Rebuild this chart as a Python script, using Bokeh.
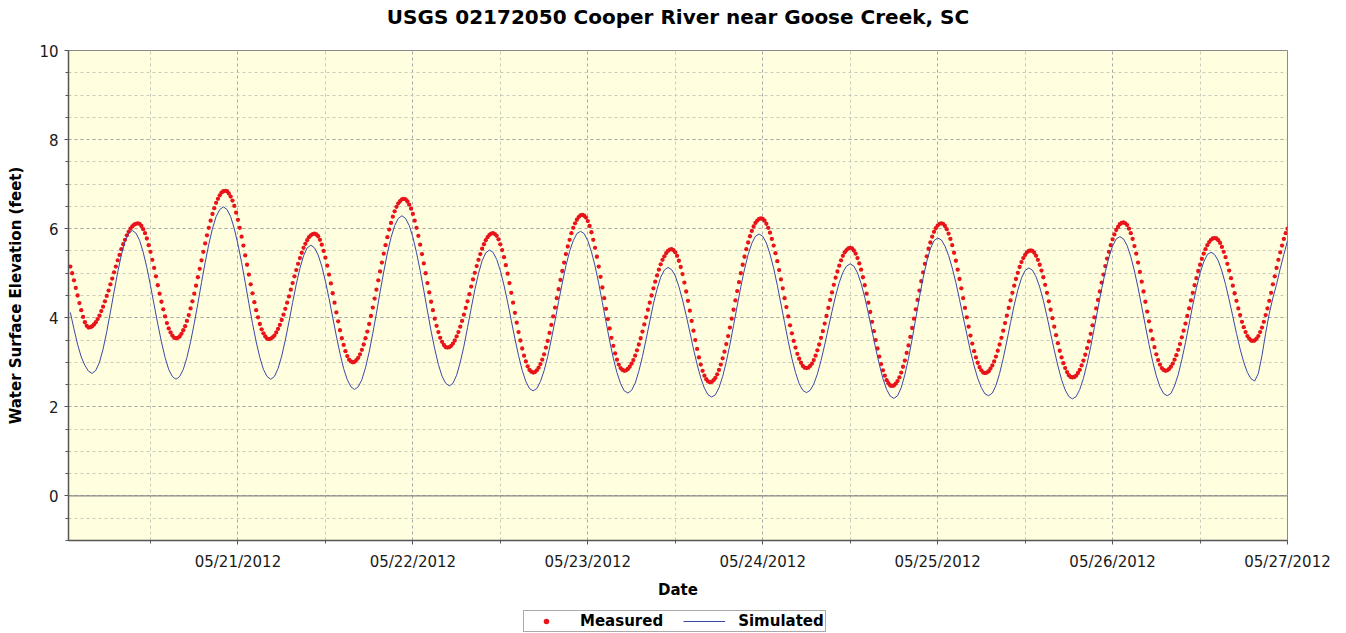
import pandas as pd
from bokeh.plotting import figure
from bokeh.layouts import column
from bokeh.models import (ColumnDataSource, FixedTicker, SingleIntervalTicker,
                          DatetimeTickFormatter, Legend, LegendItem, Span, Range1d, Title)
from bokeh.embed import file_html
from bokeh.resources import INLINE

TITLE = "USGS 02172050 Cooper River near Goose Creek, SC"
X_LABEL = "Date"
Y_LABEL = "Water Surface Elevation (feet)"
SERIES_NAMES = ["Measured", "Simulated"]

DAY_TICKS = ["2012-05-21", "2012-05-22", "2012-05-23", "2012-05-24",
             "2012-05-25", "2012-05-26", "2012-05-27"]
NOON_TICKS = ["2012-05-20 12:00", "2012-05-21 12:00", "2012-05-22 12:00",
              "2012-05-23 12:00", "2012-05-24 12:00", "2012-05-25 12:00",
              "2012-05-26 12:00"]
X_START = "2012-05-20 00:45"
X_END = "2012-05-27 00:00"
Y_MIN, Y_MAX = -1, 10

# Measured water surface elevation (feet), 15-minute values from 05/20/2012 01:00
MEASURED_START = "2012-05-20 01:00"
measured_0520 = [5.15, 5.00, 4.84, 4.67, 4.50, 4.33, 4.17, 4.02, 3.90, 3.82, 3.78,
                 3.79, 3.81, 3.85, 3.90, 3.97, 4.05, 4.15, 4.25, 4.37, 4.49, 4.61, 4.75, 4.88, 5.02,
                 5.15, 5.29, 5.41, 5.54, 5.65, 5.75, 5.85, 5.93, 6.00, 6.05, 6.09, 6.11, 6.12,
                 6.11, 6.06, 5.99, 5.90, 5.78, 5.63, 5.48, 5.30, 5.12, 4.93, 4.73, 4.54, 4.36, 4.19,
                 4.03, 3.88, 3.76, 3.67, 3.60, 3.55, 3.54,
                 3.55, 3.58, 3.64, 3.72, 3.81, 3.93, 4.06, 4.21, 4.37, 4.54, 4.72, 4.91, 5.10, 5.29,
                 5.48, 5.67, 5.85, 6.02, 6.18, 6.33, 6.46, 6.58, 6.67, 6.75, 6.81, 6.84, 6.85,
                 6.84, 6.79, 6.72, 6.63, 6.51, 6.36]
measured_0521 = [6.20, 6.02, 5.82, 5.62, 5.40, 5.19, 4.97, 4.75, 4.55, 4.35, 4.17, 4.01, 3.86,
                 3.74, 3.65, 3.58, 3.53, 3.52,
                 3.53, 3.56, 3.60, 3.67, 3.75, 3.84, 3.95, 4.07, 4.20, 4.34, 4.48, 4.63, 4.78, 4.93,
                 5.07, 5.21, 5.34, 5.46, 5.57, 5.66, 5.74, 5.81, 5.85, 5.88, 5.89,
                 5.87, 5.83, 5.75, 5.64, 5.50, 5.35, 5.17, 4.97, 4.77, 4.55, 4.34, 4.12, 3.92, 3.72,
                 3.54, 3.39, 3.25, 3.14, 3.06, 3.02, 3.00,
                 3.01, 3.05, 3.10, 3.18, 3.28, 3.40, 3.54, 3.69, 3.86, 4.04, 4.23, 4.43, 4.63, 4.84,
                 5.04, 5.24, 5.44, 5.63, 5.81, 5.98, 6.13, 6.27, 6.39, 6.49, 6.57, 6.62, 6.66, 6.67,
                 6.66, 6.61, 6.54, 6.45]
measured_0522 = [6.33, 6.18, 6.02, 5.84, 5.64, 5.43, 5.22, 5.00, 4.78, 4.57, 4.36, 4.17, 3.98,
                 3.82, 3.68, 3.55, 3.46, 3.39, 3.34, 3.33,
                 3.34, 3.37, 3.42, 3.49, 3.58, 3.68, 3.80, 3.93, 4.07, 4.22, 4.37, 4.53, 4.70, 4.86,
                 5.01, 5.16, 5.30, 5.43, 5.55, 5.65, 5.74, 5.81, 5.86, 5.89, 5.90,
                 5.88, 5.84, 5.76, 5.65, 5.52, 5.36, 5.18, 4.99, 4.78, 4.56, 4.34, 4.11, 3.89, 3.68,
                 3.49, 3.31, 3.15, 3.02, 2.91, 2.83, 2.79, 2.77,
                 2.78, 2.82, 2.88, 2.96, 3.06, 3.18, 3.33, 3.48, 3.66, 3.84, 4.03, 4.23, 4.44, 4.64,
                 4.85, 5.05, 5.24, 5.43, 5.60, 5.75, 5.90, 6.02, 6.12, 6.20, 6.26, 6.30, 6.31,
                 6.29, 6.25]
measured_0523 = [6.17, 6.06, 5.92, 5.75, 5.57, 5.37, 5.15, 4.92, 4.68, 4.44, 4.20, 3.97, 3.76,
                 3.55, 3.37, 3.20, 3.06, 2.95, 2.87, 2.83, 2.81,
                 2.82, 2.85, 2.90, 2.97, 3.05, 3.15, 3.27, 3.40, 3.54, 3.69, 3.85, 4.01, 4.18, 4.34,
                 4.50, 4.66, 4.81, 4.95, 5.08, 5.20, 5.30, 5.38, 5.45, 5.50, 5.53, 5.54,
                 5.52, 5.47, 5.39, 5.28, 5.14, 4.98, 4.79, 4.59, 4.38, 4.16, 3.93, 3.71, 3.50, 3.30,
                 3.11, 2.95, 2.81, 2.70, 2.62, 2.57, 2.55,
                 2.56, 2.60, 2.65, 2.73, 2.83, 2.95, 3.09, 3.24, 3.41, 3.59, 3.78, 3.98, 4.18, 4.39,
                 4.60, 4.80, 5.00, 5.19, 5.37, 5.54, 5.69, 5.83, 5.95, 6.05, 6.13, 6.18, 6.22, 6.23]
measured_0524 = [6.22, 6.18, 6.11, 6.02, 5.91, 5.77, 5.62, 5.45, 5.27, 5.07, 4.86, 4.66, 4.44,
                 4.24, 4.03, 3.83, 3.65, 3.48, 3.33, 3.19, 3.08, 2.99, 2.92, 2.88, 2.87,
                 2.88, 2.92, 2.97, 3.05, 3.15, 3.27, 3.40, 3.55, 3.70, 3.87, 4.04, 4.22, 4.40, 4.57,
                 4.74, 4.90, 5.04, 5.17, 5.29, 5.39, 5.47, 5.52, 5.56, 5.57,
                 5.56, 5.51, 5.44, 5.34, 5.22, 5.08, 4.91, 4.73, 4.54, 4.34, 4.13, 3.91, 3.70, 3.50,
                 3.31, 3.13, 2.96, 2.82, 2.70, 2.60, 2.53, 2.48, 2.47,
                 2.48, 2.52, 2.58, 2.66, 2.77, 2.90, 3.04, 3.21, 3.38, 3.57, 3.77, 3.98, 4.19, 4.40,
                 4.61, 4.82, 5.02, 5.21, 5.38, 5.55, 5.69, 5.82, 5.93, 6.01]
measured_0525 = [6.07, 6.11, 6.12,
                 6.11, 6.06, 5.99, 5.89, 5.77, 5.63, 5.46, 5.28, 5.08, 4.87, 4.66, 4.44, 4.22, 4.01,
                 3.80, 3.60, 3.42, 3.25, 3.11, 2.99, 2.89, 2.82, 2.77, 2.76,
                 2.77, 2.80, 2.86, 2.93, 3.02, 3.13, 3.26, 3.40, 3.55, 3.71, 3.88, 4.05, 4.22, 4.39,
                 4.56, 4.72, 4.87, 5.01, 5.14, 5.25, 5.34, 5.41, 5.47, 5.50, 5.51,
                 5.50, 5.46, 5.39, 5.30, 5.19, 5.06, 4.91, 4.74, 4.56, 4.37, 4.18, 3.99, 3.80, 3.61,
                 3.43, 3.26, 3.11, 2.98, 2.87, 2.78, 2.71, 2.67, 2.66,
                 2.67, 2.70, 2.76, 2.83, 2.93, 3.04, 3.17, 3.32, 3.47, 3.64, 3.83, 4.01, 4.21, 4.40,
                 4.59, 4.79, 4.97, 5.16, 5.33, 5.48, 5.63]
measured_0526 = [5.76, 5.87, 5.97, 6.04, 6.10, 6.13, 6.14,
                 6.12, 6.08, 6.00, 5.90, 5.77, 5.61, 5.44, 5.24, 5.03, 4.81, 4.59, 4.36, 4.14, 3.92,
                 3.71, 3.52, 3.34, 3.18, 3.05, 2.95, 2.87, 2.83, 2.81,
                 2.82, 2.85, 2.90, 2.97, 3.06, 3.16, 3.28, 3.41, 3.56, 3.71, 3.87, 4.04, 4.21, 4.39,
                 4.56, 4.73, 4.89, 5.05, 5.19, 5.32, 5.44, 5.54, 5.63, 5.70, 5.75, 5.78, 5.79,
                 5.78, 5.74, 5.68, 5.59, 5.48, 5.36, 5.21, 5.06, 4.89, 4.72, 4.55, 4.38, 4.21, 4.06,
                 3.91, 3.79, 3.68, 3.59, 3.53, 3.49, 3.48,
                 3.49, 3.53, 3.59, 3.68, 3.78, 3.91, 4.06, 4.21, 4.38, 4.56, 4.75, 4.93, 5.12, 5.30,
                 5.47, 5.62, 5.77, 5.90, 6.00]

# Simulated water surface elevation (feet), 30-minute values from 05/20/2012 01:00
SIMULATED_START = "2012-05-20 01:00"
simulated_0520 = [4.12, 3.75, 3.40, 3.12, 2.93, 2.80, 2.75,
                  2.82, 3.00, 3.30, 3.69, 4.13, 4.58, 5.02, 5.41, 5.71, 5.89, 5.96,
                  5.90, 5.74, 5.47, 5.13, 4.72, 4.29, 3.86, 3.46, 3.11, 2.84, 2.68, 2.62,
                  2.68, 2.84, 3.11, 3.46, 3.87, 4.32, 4.79, 5.24, 5.65, 6.00, 6.27, 6.43, 6.49,
                  6.43, 6.27, 6.00]
simulated_0521 = [5.65, 5.24, 4.79, 4.32, 3.87, 3.46, 3.11, 2.84, 2.68, 2.62,
                  2.68, 2.86, 3.14, 3.50, 3.91, 4.34, 4.75, 5.11, 5.39, 5.57, 5.63,
                  5.57, 5.41, 5.16, 4.82, 4.43, 4.01, 3.59, 3.20, 2.86, 2.61, 2.45, 2.39,
                  2.45, 2.61, 2.88, 3.23, 3.65, 4.10, 4.58, 5.03, 5.45, 5.80, 6.07, 6.23, 6.29,
                  6.23, 6.07]
simulated_0522 = [5.81, 5.46, 5.06, 4.61, 4.15, 3.70, 3.30, 2.95, 2.69, 2.53, 2.47,
                  2.53, 2.71, 3.00, 3.36, 3.78, 4.21, 4.63, 4.99, 5.28, 5.46, 5.52,
                  5.47, 5.31, 5.06, 4.73, 4.35, 3.94, 3.53, 3.15, 2.82, 2.57, 2.41, 2.36,
                  2.41, 2.57, 2.81, 3.13, 3.52, 3.93, 4.37, 4.78, 5.17, 5.49, 5.73, 5.89, 5.94,
                  5.89]
simulated_0523 = [5.73, 5.48, 5.16, 4.77, 4.34, 3.91, 3.48, 3.09, 2.77, 2.52, 2.36, 2.31,
                  2.37, 2.53, 2.80, 3.13, 3.52, 3.92, 4.31, 4.64, 4.91, 5.07, 5.13,
                  5.08, 4.94, 4.70, 4.40, 4.05, 3.68, 3.30, 2.95, 2.65, 2.42, 2.27, 2.22,
                  2.27, 2.43, 2.68, 3.01, 3.40, 3.83, 4.27, 4.70, 5.09, 5.42, 5.67, 5.83, 5.88]
simulated_0524 = [5.83, 5.68, 5.43, 5.11, 4.73, 4.31, 3.89, 3.47, 3.09, 2.77, 2.52, 2.37, 2.32,
                  2.37, 2.51, 2.74, 3.04, 3.39, 3.77, 4.14, 4.49, 4.79, 5.02, 5.16, 5.21,
                  5.16, 5.01, 4.77, 4.46, 4.09, 3.70, 3.31, 2.95, 2.63, 2.39, 2.24, 2.19,
                  2.25, 2.43, 2.72, 3.09, 3.52, 3.99, 4.46, 4.89, 5.26, 5.55, 5.73]
simulated_0525 = [5.79,
                  5.75, 5.61, 5.40, 5.12, 4.79, 4.41, 4.02, 3.63, 3.25, 2.92, 2.64, 2.43, 2.29, 2.25,
                  2.31, 2.48, 2.75, 3.09, 3.48, 3.89, 4.28, 4.62, 4.89, 5.06, 5.12,
                  5.07, 4.92, 4.69, 4.39, 4.03, 3.65, 3.27, 2.92, 2.61, 2.38, 2.23, 2.18,
                  2.23, 2.39, 2.64, 2.97, 3.35, 3.78, 4.22, 4.65, 5.03, 5.36]
simulated_0526 = [5.61, 5.77, 5.82,
                  5.77, 5.62, 5.37, 5.05, 4.67, 4.25, 3.82, 3.40, 3.02, 2.70, 2.45, 2.30, 2.25,
                  2.30, 2.47, 2.72, 3.06, 3.44, 3.86, 4.28, 4.67, 5.00, 5.25, 5.42, 5.47,
                  5.42, 5.28, 5.05, 4.75, 4.40, 4.03, 3.65, 3.30, 3.00, 2.77, 2.63, 2.58,
                  2.75, 3.15, 3.65, 4.10, 4.45, 4.75, 5.10, 5.42, 5.73]

measured = (measured_0520 + measured_0521 + measured_0522 + measured_0523 +
            measured_0524 + measured_0525 + measured_0526)
simulated = (simulated_0520 + simulated_0521 + simulated_0522 + simulated_0523 +
             simulated_0524 + simulated_0525 + simulated_0526)

src_meas = ColumnDataSource(dict(
    t=pd.date_range(MEASURED_START, periods=len(measured), freq="15min"), v=measured))
src_sim = ColumnDataSource(dict(
    t=pd.date_range(SIMULATED_START, periods=len(simulated), freq="30min"), v=simulated))


def ms(s):
    return pd.Timestamp(s).value // 10**6


FONT = "DejaVu Sans"
MEAS_STYLE = dict(size=4.3, fill_color="#e8141a", line_color=None)
SIM_STYLE = dict(line_color="#3b48a8", line_width=1)

p = figure(width=1346, height=605, x_axis_type="datetime", title=None,
           output_backend="svg", toolbar_location=None,
           x_range=Range1d(ms(X_START), ms(X_END)),
           y_range=Range1d(Y_MIN, Y_MAX),
           min_border_left=68, min_border_right=59,
           min_border_top=50, min_border_bottom=65,
           background_fill_color="#FFFFE0", border_fill_color="white",
           outline_line_color="#8a8a8a", outline_line_width=1)

# a small spacer nearest the plot, then the chart title above it
p.add_layout(Title(text=" ", text_font_size="1px", standoff=19), "above")
p.add_layout(Title(text=TITLE, text_font=FONT, text_font_size="20px",
                   text_font_style="bold", text_color="black",
                   align="center", standoff=0), "above")

# x axis
xax = p.xaxis[0]
xax.ticker = FixedTicker(ticks=[ms(d) for d in DAY_TICKS],
                         minor_ticks=[ms(d) for d in NOON_TICKS])
fmt = "%m/%d/%Y"
xax.formatter = DatetimeTickFormatter(milliseconds=fmt, seconds=fmt, minsec=fmt,
                                      minutes=fmt, hourmin=fmt, hours=fmt,
                                      days=fmt, months=fmt, years=fmt)
xax.axis_label = X_LABEL
xax.major_label_standoff = 8
xax.axis_label_standoff = 7

# y axis
yax = p.yaxis[0]
yax.ticker = SingleIntervalTicker(interval=2, num_minor_ticks=4)
yax.axis_label = Y_LABEL
yax.major_label_standoff = 6
yax.axis_label_standoff = 11

for ax in (xax, yax):
    ax.major_label_text_font = FONT
    ax.major_label_text_font_size = "15px"
    ax.major_label_text_color = "#1a1a1a"
    ax.axis_label_text_font = FONT
    ax.axis_label_text_font_size = "15px"
    ax.axis_label_text_font_style = "bold"
    ax.axis_label_text_color = "black"
    ax.axis_line_color = "#555555"
    ax.axis_line_width = 1.5
    ax.major_tick_line_color = "#555555"
    ax.minor_tick_line_color = "#555555"
    ax.major_tick_in = 0
    ax.major_tick_out = 4
    ax.minor_tick_in = 0
    ax.minor_tick_out = 3

for g in (p.xgrid[0], p.ygrid[0]):
    g.grid_line_color = "#a8a8a8"
    g.grid_line_dash = "3 3"
    g.grid_line_width = 1
    g.minor_grid_line_color = "#cbcbbc"
    g.minor_grid_line_dash = "3 3"
    g.minor_grid_line_width = 1

p.add_layout(Span(location=0, dimension="width", line_color="#8a8a8a", line_width=1.2))

p.scatter(x="t", y="v", source=src_meas, **MEAS_STYLE)
p.line(x="t", y="v", source=src_sim, **SIM_STYLE)

# Legend strip below the chart (its renderers share the data but sit outside its view)
pl = figure(width=1346, height=28, output_backend="svg", toolbar_location=None,
            x_axis_type="datetime",
            x_range=Range1d(0, 1), y_range=Range1d(100, 101),
            x_axis_location=None, y_axis_location=None,
            min_border=0, outline_line_color=None,
            background_fill_color="white", border_fill_color="white")
pl.grid.visible = False
lm = pl.scatter(x="t", y="v", source=src_meas, **MEAS_STYLE)
ls = pl.line(x="t", y="v", source=src_sim, **SIM_STYLE)

legend = Legend(items=[LegendItem(label=SERIES_NAMES[0], renderers=[lm]),
                       LegendItem(label=SERIES_NAMES[1], renderers=[ls])],
                orientation="horizontal", location=(455, 1),
                label_text_font=FONT, label_text_font_size="15px",
                label_text_font_style="bold", label_text_color="black",
                glyph_width=42, glyph_height=14, label_height=14,
                padding=1, spacing=20, label_standoff=13, margin=0,
                border_line_color="#555555", border_line_width=1,
                background_fill_color="white", background_fill_alpha=1)
pl.add_layout(legend, "center")

layout = column(p, pl, spacing=0)
open("out.html", "w").write(file_html(layout, INLINE))
